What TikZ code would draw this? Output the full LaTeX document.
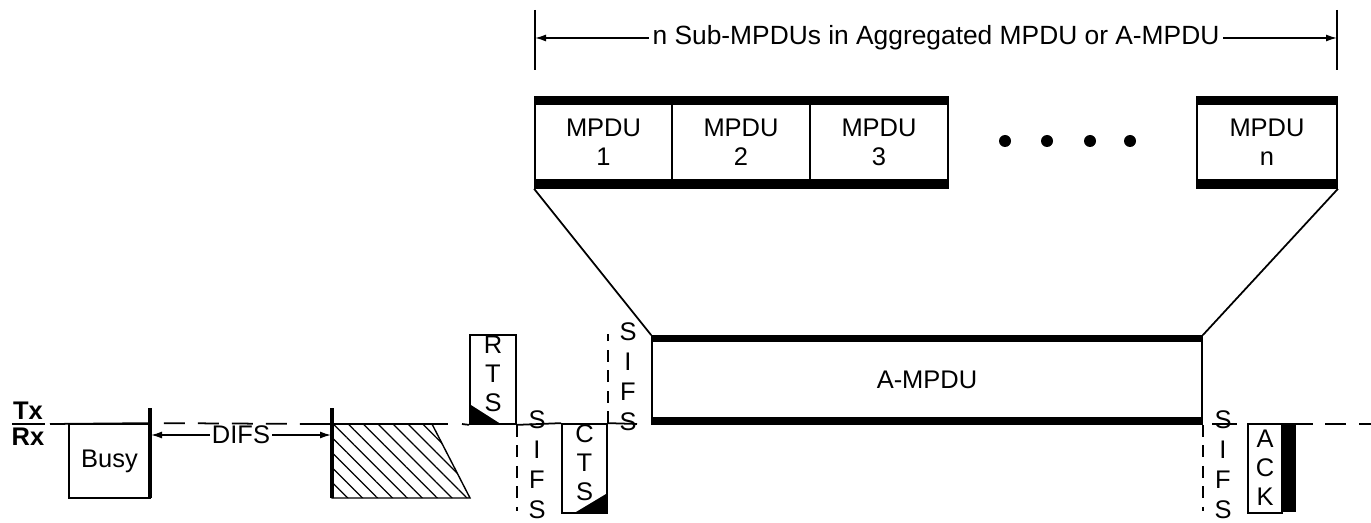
\documentclass[tikz,border=0pt]{standalone}
\usepackage{fontspec}
\setmainfont{Liberation Sans}
\usetikzlibrary{arrows.meta, patterns.meta}

\begin{document}
\begin{tikzpicture}[x=0.02cm, y=-0.02cm,
        frame/.style={
            rectangle, draw, line width=1pt, inner sep=0pt,
            font=\fontsize{14.5}{16.5}\selectfont, align=center
        },
        stack/.style={
            inner sep=0pt, align=center,
            font=\fontsize{14.5}{16.5}\selectfont
        },
        sifs/.style={
            inner sep=0pt, align=center,
            font=\fontsize{14.5}{17}\selectfont
        },
        dot/.style={circle, fill=black, inner sep=0pt, minimum size=0.24cm},
        base/.style={line width=1pt},
        gapline/.style={line width=1pt, dash pattern=on 0.42cm off 0.26cm},
        vdash/.style={line width=0.8pt, dash pattern=on 0.24cm off 0.17cm},
        tick/.style={line width=2pt},
        dimarrow/.style={{Latex[length=0.22cm, width=0.14cm]}-{Latex[length=0.22cm, width=0.14cm]}, line width=0.8pt}
    ]
        \useasboundingbox (0,0) rectangle (1371,523);

        % top dimension
        \coordinate (dl) at (535,38);
        \coordinate (dr) at (1337,38);
        \draw[line width=0.8pt] (535,10) -- (535,70);
        \draw[line width=0.8pt] (1337,10) -- (1337,70);
        \draw[dimarrow] (dl) -- (dr) node[midway, fill=white, inner sep=2pt,
            font=\fontsize{15}{17}\selectfont] (dimtxt) {n Sub-MPDUs in Aggregated MPDU or A-MPDU};

        % sub-MPDUs
        \node[frame, minimum width=2.74cm, minimum height=1.82cm] (mpdua) at (603.5,142.5) {MPDU\\1};
        \node[frame, minimum width=2.76cm, minimum height=1.82cm] (mpdub) at (741,142.5) {MPDU\\2};
        \node[frame, minimum width=2.76cm, minimum height=1.82cm] (mpduc) at (879,142.5) {MPDU\\3};
        \node[frame, minimum width=2.80cm, minimum height=1.82cm] (mpdun) at (1267,142.5) {MPDU\\n};
        \fill (mpdua.north west) rectangle ++(413,9);
        \fill (mpdua.south west) rectangle ++(413,-10);
        \fill (mpdun.north west) rectangle ++(140,9);
        \fill (mpdun.south west) rectangle ++(140,-10);
        \foreach \x [count=\i] in {1005,1047,1090,1130}
            \node[dot] (dot\i) at (\x,141) {};

        % aggregate
        \node[frame, minimum width=11cm, minimum height=1.76cm] (ampdu) at (927,380) {A-MPDU};
        \fill (ampdu.north west) rectangle ++(550,7);
        \fill (ampdu.south west) rectangle ++(550,-8);
        \draw[base] (mpdua.south west) -- (ampdu.north west);
        \draw[base] (mpdun.south east) -- (ampdu.north east);

        % time line
        \node[font=\bfseries\fontsize{14.5}{16}\selectfont, inner sep=0pt] (tx) at (28,411) {Tx};
        \node[font=\bfseries\fontsize{14.5}{16}\selectfont, inner sep=0pt] (rx) at (28,437) {Rx};
        \draw[base] (12,424) -- (45,424);

        \node[frame, minimum width=1.62cm, minimum height=1.48cm] (busy) at (109.5,461) {Busy};
        \draw[tick] (150,408) -- (150,498);
        \draw[tick] (332,408) -- (332,498);
        \coordinate (difsl) at (151,435);
        \coordinate (difsr) at (331,435);
        \draw[dimarrow] (difsl) -- (difsr) node[midway, fill=white, inner sep=1pt,
            font=\fontsize{14.5}{16.5}\selectfont] (difs) {DIFS};

        \draw[line width=0.8pt, pattern={Lines[angle=-45, distance=6pt, line width=0.7pt]}]
            (332,424) -- (432,424) -- (470,498) -- (332,498) -- cycle;

        \node[frame, minimum width=0.92cm, minimum height=1.78cm] (rts) at (493,379.5) {};
        \fill (rts.south west) -- ++(0,-21) -- ++(33,21) -- cycle;
        \node[stack] (rtstxt) at (493,374) {R\\T\\S};

        \node[frame, minimum width=0.90cm, minimum height=1.78cm] (cts) at (584.5,468.5) {};
        \fill (cts.south east) -- ++(0,-21) -- ++(-35,21) -- cycle;
        \node[stack] (ctstxt) at (584.5,463) {C\\T\\S};

        \node[frame, minimum width=0.68cm, minimum height=1.78cm] (ack) at (1265,468.5) {};
        \fill (ack.north east) rectangle ++(13,89);
        \node[stack] (acktxt) at (1265,468) {A\\C\\K};

        \node[sifs] (sifsa) at (537,465) {S\\I\\F\\S};
        \node[sifs] (sifsb) at (628,377) {S\\I\\F\\S};
        \node[sifs] (sifsc) at (1223,465) {S\\I\\F\\S};

        % base line pieces
        \draw[base] (50,424) -- (busy.north east);
        \draw[gapline] ([xshift=0.26cm]busy.north east) -- (312,424);
        \draw[base] (312,424) -- (448,424);
        \draw[base] (462,424) -- (rts.south west);
        \draw[base] (rts.south east) -- (cts.north west);
        \draw[base] (cts.north east) -- (637,424);
        \draw[base] (1212,424) -- (1237,424);
        \draw[base] (1295,424) -- (1313,424);
        \draw[gapline] (1325,424) -- (1371,424);

        % SIFS guides
        \draw[vdash] (rts.south east) -- ++(0,86);
        \draw[vdash] (cts.north east) -- ++(0,-89);
        \draw[vdash] (ampdu.south east) -- ++(0,86);
    \end{tikzpicture}
\end{document}
